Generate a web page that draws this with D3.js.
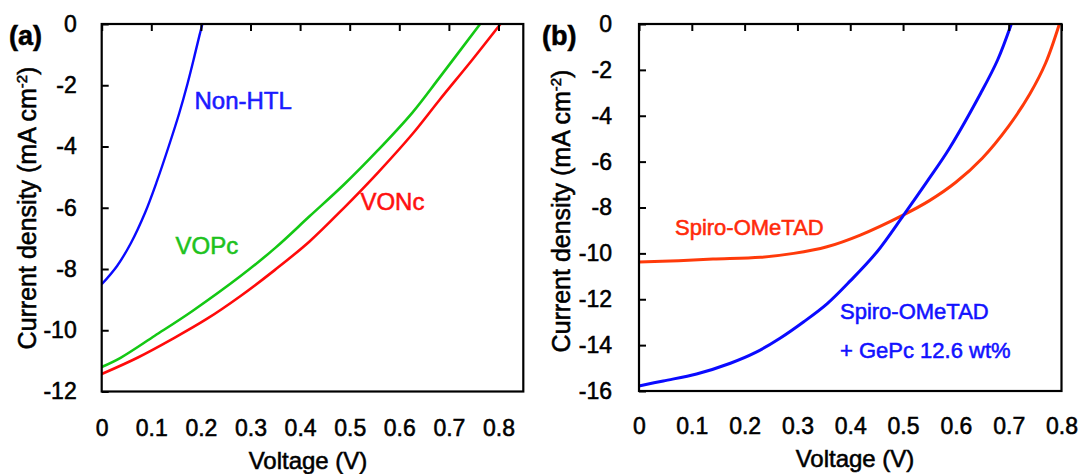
<!DOCTYPE html>
<html>
<head>
<meta charset="utf-8">
<script src="https://cdn.jsdelivr.net/npm/d3@7"></script>
<style>
  body { margin: 0; background: #fff; }
  svg { display: block; font-family: "Liberation Sans", Arial, sans-serif; }
  text { paint-order: stroke; stroke-width: 0.55px; }
</style>
</head>
<body>
<script>
// J-V curves, voltage (V) vs current density (mA cm-2)
const voltTicks = [0, 0.1, 0.2, 0.3, 0.4, 0.5, 0.6, 0.7, 0.8];
const jTicksA = [0, -2, -4, -6, -8, -10, -12];
const jTicksB = [0, -2, -4, -6, -8, -10, -12, -14, -16];

// panel (a)
const nonHTL = [[0,-8.5],[0.031,-7.9],[0.059,-7.15],[0.087,-6.18],[0.111,-5.15],[0.135,-4.0],
  [0.156,-2.93],[0.173,-1.95],[0.187,-1.05],[0.197,-0.38],[0.203,0]];
const vopc = [[0,-11.2],[0.038,-10.9],[0.107,-10.18],[0.183,-9.37],[0.28,-8.23],[0.35,-7.31],
  [0.419,-6.28],[0.488,-5.25],[0.557,-4.12],[0.626,-2.9],[0.681,-1.75],[0.763,0]];
const vonc = [[0,-11.43],[0.073,-10.89],[0.142,-10.29],[0.211,-9.64],[0.28,-8.88],[0.35,-8.02],
  [0.419,-7.1],[0.488,-6.01],[0.557,-4.85],[0.626,-3.6],[0.681,-2.48],[0.748,-1.15],[0.804,0]];

// panel (b)
const spiro = [[0,-10.38],[0.075,-10.32],[0.14,-10.25],[0.23,-10.17],[0.293,-10.0],[0.356,-9.71],
  [0.419,-9.2],[0.5,-8.33],[0.55,-7.7],[0.6,-6.9],[0.65,-5.85],[0.7,-4.45],[0.74,-3.05],[0.77,-1.7],[0.796,0]];
const spiroGePc = [[0,-15.78],[0.046,-15.56],[0.109,-15.26],[0.173,-14.79],[0.22,-14.33],[0.267,-13.7],
  [0.312,-12.98],[0.356,-12.2],[0.4,-11.2],[0.45,-9.95],[0.501,-8.33],[0.546,-6.85],[0.587,-5.45],
  [0.647,-3.02],[0.679,-1.57],[0.705,0]];

const width = 1081, height = 474;

const svg = d3.select("body").append("svg")
    .attr("width", width)
    .attr("height", height);

function drawPanel(p) {
    const x = d3.scaleLinear().domain(p.xDomain).range([p.left, p.right]);
    const y = d3.scaleLinear().domain(p.yDomain).range([p.bottom, p.top]);
    const g = svg.append("g");

    const line = d3.line()
        .x(d => x(d[0]))
        .y(d => y(d[1]))
        .curve(d3.curveCatmullRom.alpha(0.5));

    p.series.forEach(s => {
        g.append("path")
            .datum(s.data)
            .attr("fill", "none")
            .attr("stroke", s.color)
            .attr("stroke-width", s.width)
            .attr("stroke-linejoin", "round")
            .attr("d", line);
    });

    // tick marks on the top edge, pointing in
    const top = g.append("g")
        .attr("transform", `translate(0,${p.top})`)
        .call(d3.axisTop(x).tickValues(voltTicks).tickSize(-7).tickFormat(""));
    top.select(".domain").remove();

    // left axis, ticks in, labels out
    const left = g.append("g")
        .attr("transform", `translate(${p.left},0)`)
        .call(d3.axisLeft(y).tickValues(p.yTicks).tickSizeInner(-7).tickSizeOuter(0)
            .tickPadding(p.yPad).tickFormat(d => String(d)));
    left.select(".domain").remove();

    // x labels sit under the box
    const bottom = g.append("g")
        .attr("transform", `translate(0,${p.bottom})`)
        .call(d3.axisBottom(x).tickValues(voltTicks).tickSize(0).tickPadding(p.xPad)
            .tickFormat(d => String(d)));
    bottom.select(".domain").remove();

    g.selectAll(".tick line").attr("stroke", "#000").attr("stroke-width", 2);
    g.selectAll(".tick text")
        .attr("fill", "#000")
        .attr("stroke", "#000")
        .style("font-size", "23px")
        .style("font-family", "'Liberation Sans', Arial, sans-serif");

    g.append("rect")
        .attr("x", p.left)
        .attr("y", p.top)
        .attr("width", p.right - p.left)
        .attr("height", p.bottom - p.top)
        .attr("fill", "none")
        .attr("stroke", "#000")
        .attr("stroke-width", 2.2);

    g.append("text")
        .attr("x", p.xTitle[0])
        .attr("y", p.xTitle[1])
        .attr("text-anchor", "middle")
        .attr("stroke", "#000")
        .style("font-size", "24px")
        .text("Voltage (V)");

    const yt = g.append("text")
        .attr("transform", `translate(${p.yTitle[0]},${p.yTitle[1]}) rotate(-90)`)
        .attr("text-anchor", "middle")
        .attr("stroke", "#000")
        .style("font-size", "25px");
    yt.append("tspan").text("Current density (mA cm");
    yt.append("tspan").attr("dy", -9).style("font-size", "15px").text("-2");
    yt.append("tspan").attr("dy", 9).text(")");

    g.append("text")
        .attr("x", p.tag[0])
        .attr("y", p.tag[1])
        .style("font-size", "27px")
        .style("font-weight", "bold")
        .attr("stroke", "#000")
        .text(p.tagText);

    p.labels.forEach(l => {
        g.append("text")
            .attr("x", l.x)
            .attr("y", l.y)
            .attr("fill", l.color)
            .attr("stroke", l.color)
            .style("font-size", l.size + "px")
            .text(l.text);
    });
}

drawPanel({
    left: 101.7, right: 523.3, top: 24, bottom: 391.5,
    xDomain: [0, 0.85], yDomain: [-12, 0], yTicks: jTicksA,
    yPad: 25, xPad: 28,
    xTitle: [308, 469], yTitle: [36, 208],
    tag: [9, 45], tagText: "(a)",
    series: [
        {data: nonHTL, color: "#0a0aff", width: 2.4},
        {data: vopc, color: "#14c814", width: 2.6},
        {data: vonc, color: "#ff0a0a", width: 2.6}
    ],
    labels: [
        {text: "Non-HTL", x: 194.5, y: 108.7, color: "#1a1aff", size: 24},
        {text: "VOPc", x: 175.6, y: 253.5, color: "#1ec21e", size: 24},
        {text: "VONc", x: 360.4, y: 210, color: "#ff1010", size: 24}
    ]
});

drawPanel({
    left: 639, right: 1061.5, top: 24, bottom: 391,
    xDomain: [0, 0.8], yDomain: [-16, 0], yTicks: jTicksB,
    yPad: 27, xPad: 27,
    xTitle: [855, 467], yTitle: [570, 211],
    tag: [542, 45], tagText: "(b)",
    series: [
        {data: spiro, color: "#ff3a0a", width: 3},
        {data: spiroGePc, color: "#0a0aff", width: 3}
    ],
    labels: [
        {text: "Spiro-OMeTAD", x: 675, y: 235, color: "#ff2a0a", size: 22},
        {text: "Spiro-OMeTAD", x: 840, y: 318.5, color: "#1212ff", size: 22},
        {text: "+ GePc 12.6 wt%", x: 840, y: 358, color: "#1212ff", size: 22}
    ]
});
</script>
</body>
</html>
